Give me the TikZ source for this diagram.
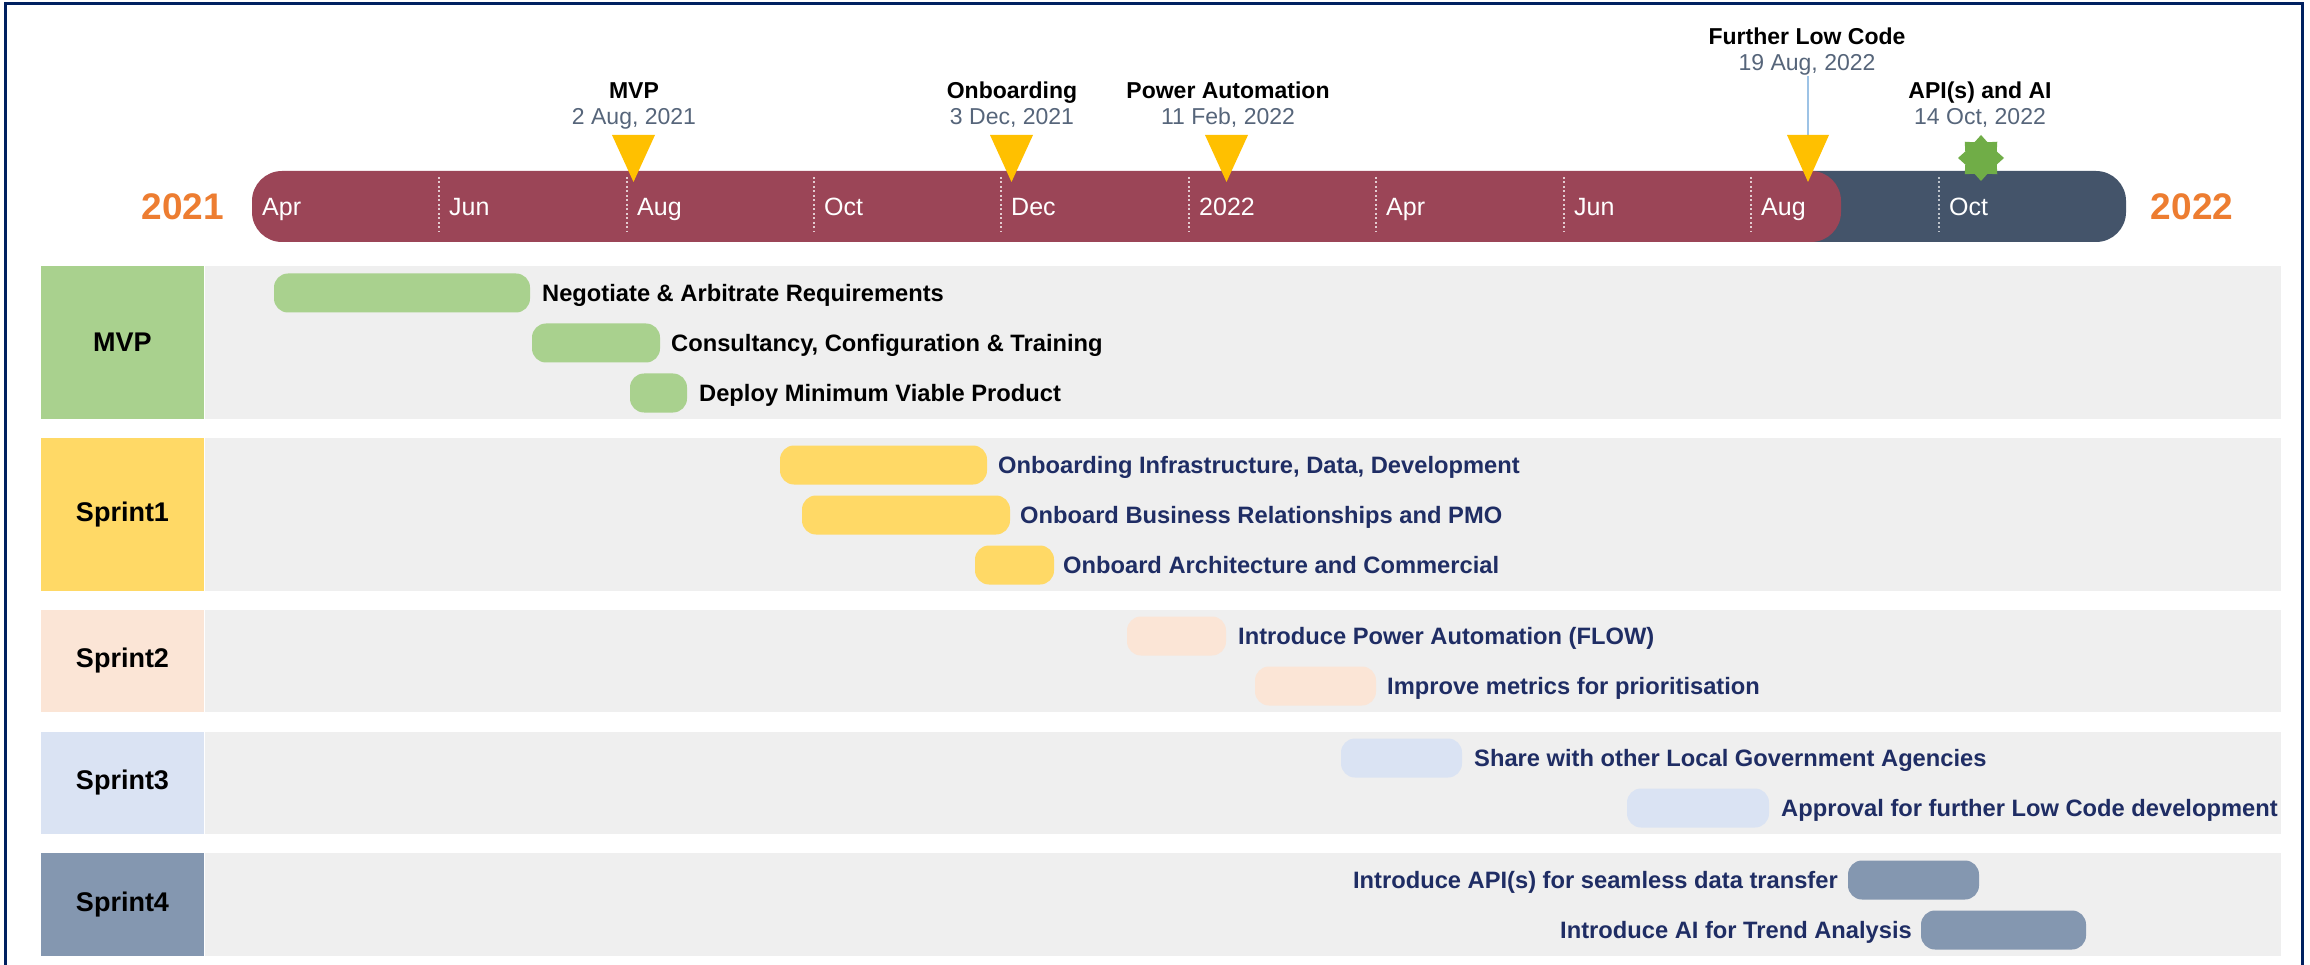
\documentclass[tikz,border=0pt]{standalone}
\usepackage{fontspec}
\setmainfont{Liberation Sans}
\usetikzlibrary{shapes.geometric}
\definecolor{barred}{HTML}{9B4557}
\definecolor{bardark}{HTML}{44546A}
\definecolor{yearorange}{HTML}{ED7D31}
\definecolor{msyellow}{HTML}{FFC000}
\definecolor{stargreen}{HTML}{70AD47}
\definecolor{dategray}{HTML}{56657A}
\definecolor{framenavy}{HTML}{002060}
\definecolor{tasknavy}{HTML}{1F2D64}
\definecolor{bandgray}{HTML}{EFEFEF}
\definecolor{cmvp}{HTML}{A9D18E}
\definecolor{csa}{HTML}{FFD966}
\definecolor{csb}{HTML}{FBE5D6}
\definecolor{csc}{HTML}{DAE3F3}
\definecolor{csd}{HTML}{8497B0}
\definecolor{linkblue}{HTML}{9DC3E6}
\tikzset{
  yeartext/.style={font=\fontsize{37}{44}\selectfont\bfseries, text=yearorange, inner sep=0pt, anchor=base},
  monthtext/.style={font=\fontsize{25}{30}\selectfont, text=white, inner sep=0pt, anchor=base west},
  mstitle/.style={font=\fontsize{23}{28}\selectfont\bfseries, text=black, inner sep=0pt, anchor=base},
  msdate/.style={font=\fontsize{23}{28}\selectfont, text=dategray, inner sep=0pt, anchor=base},
  monthtick/.style={line width=1.6pt, dash pattern=on 2pt off 2.5pt},
  msmark/.style={fill=msyellow},
  lanebox/.style={minimum width=163pt, inner sep=0pt, font=\fontsize{27}{32}\selectfont\bfseries, text=black},
  taskbar/.style={rounded corners=14pt, minimum height=39pt, inner sep=0pt},
  tasktext/.style={font=\fontsize{23.7}{28}\selectfont\bfseries, inner sep=0pt},
}
\begin{document}
\begin{tikzpicture}[x=1pt,y=-1pt]
\useasboundingbox (0,0) rectangle (2310,965);
\fill[white] (0,0) rectangle (2310,965);
% frame
\draw[framenavy, line width=3pt] (5,980) -- (5,4) -- (2302,4) -- (2302,980);

% timeline bars
\fill[bardark, rounded corners=30pt] (1780,171) rectangle (2126,242);
\fill[barred, rounded corners=30pt] (252,171) rectangle (1841,242);
% ticks
\foreach \tx in {439,627,814,1001,1189,1376,1564,1751}
  \draw[monthtick, white!72!barred] (\tx,177) -- (\tx,232);
\draw[monthtick, white!65!bardark] (1939,177) -- (1939,232);
% month labels
\foreach \mx/\mn in {262/Apr,449/Jun,637/Aug,824/Oct,1011/Dec,1199/2022,1386/Apr,1574/Jun,1761/Aug,1949/Oct}
  \node[monthtext] at (\mx,216) {\mn};
% years
\node[yeartext] (y1) at (183,220) {2021};
\node[yeartext] (y2) at (2192,220) {2022};

% milestones
\node[mstitle] (mvpt) at (634,99) {MVP};
\node[msdate] (mvpd) at (634,125) {2 Aug, 2021};
\fill[msmark] (612,135) -- (655,135) -- (633.5,182) -- cycle;

\node[mstitle] (onbt) at (1012,99) {Onboarding};
\node[msdate] (onbd) at (1012,125) {3 Dec, 2021};
\fill[msmark] (990,135) -- (1033,135) -- (1011.5,182) -- cycle;

\node[mstitle] (pat) at (1228,99) {Power Automation};
\node[msdate] (pad) at (1228,125) {11 Feb, 2022};
\fill[msmark] (1205,135) -- (1248,135) -- (1226.5,182) -- cycle;

\node[mstitle] (flct) at (1807,45) {Further Low Code};
\node[msdate] (flcd) at (1807,71) {19 Aug, 2022};
\coordinate (flctop) at (1808,135);
\draw[linkblue, line width=2pt] (flcd.south -| flctop) -- (flctop);
\fill[msmark] (1787,135) -- (1829,135) -- (1808,182) -- cycle;

\node[mstitle] (apit) at (1980,99) {API(s) and AI};
\node[msdate] (apid) at (1980,125) {14 Oct, 2022};
\node[star, star points=8, star point ratio=1.35, minimum size=46pt, inner sep=0pt, fill=stargreen] (apistar) at (1981,158) {};

% lanes
\fill[bandgray] (205,266) rectangle (2281,419);
\fill[bandgray] (205,438) rectangle (2281,591);
\fill[bandgray] (205,610) rectangle (2281,712);
\fill[bandgray] (205,732) rectangle (2281,834);
\fill[bandgray] (205,853) rectangle (2281,956);

\node[lanebox, fill=cmvp, minimum height=153pt] (lmvp) at (122.5,342.5) {MVP};
\node[lanebox, fill=csa, minimum height=153pt] (ls1) at (122.5,514.5) {Sprint1};
\node[lanebox, fill=csb, minimum height=102pt] (ls2) at (122.5,661) {Sprint2};
\node[lanebox, fill=csc, minimum height=102pt] (ls3) at (122.5,783) {Sprint3};
\node[lanebox, fill=csd, minimum height=103pt] (ls4) at (122.5,904.5) {Sprint4};

% MVP tasks
\node[taskbar, fill=cmvp, minimum width=256pt] (m1) at (402,293) {};
\node[tasktext, text=black, anchor=base west] (m1t) at (542,301.5) {Negotiate \& Arbitrate Requirements};
\node[taskbar, fill=cmvp, minimum width=128pt] (m2) at (596,343) {};
\node[tasktext, text=black, anchor=base west] (m2t) at (671,351.5) {Consultancy, Configuration \& Training};
\node[taskbar, fill=cmvp, minimum width=57pt] (m3) at (658.5,393) {};
\node[tasktext, text=black, anchor=base west] (m3t) at (699,401.5) {Deploy Minimum Viable Product};

% Sprint1 tasks
\node[taskbar, fill=csa, minimum width=207pt] (a1) at (883.5,465) {};
\node[tasktext, text=tasknavy, anchor=base west] (a1t) at (998,473.5) {Onboarding Infrastructure, Data, Development};
\node[taskbar, fill=csa, minimum width=208pt] (a2) at (906,515) {};
\node[tasktext, text=tasknavy, anchor=base west] (a2t) at (1020,523.5) {Onboard Business Relationships and PMO};
\node[taskbar, fill=csa, minimum width=79pt] (a3) at (1014.5,565) {};
\node[tasktext, text=tasknavy, anchor=base west] (a3t) at (1063,573.5) {Onboard Architecture and Commercial};

% Sprint2 tasks
\node[taskbar, fill=csb, minimum width=99pt] (b1) at (1176.5,636) {};
\node[tasktext, text=tasknavy, anchor=base west] (b1t) at (1238,644.5) {Introduce Power Automation (FLOW)};
\node[taskbar, fill=csb, minimum width=121pt] (b2) at (1315.5,686) {};
\node[tasktext, text=tasknavy, anchor=base west] (b2t) at (1387,694.5) {Improve metrics for prioritisation};

% Sprint3 tasks
\node[taskbar, fill=csc, minimum width=121pt] (c1) at (1401.5,758) {};
\node[tasktext, text=tasknavy, anchor=base west] (c1t) at (1474,766.5) {Share with other Local Government Agencies};
\node[taskbar, fill=csc, minimum width=142pt] (c2) at (1698,808) {};
\node[tasktext, text=tasknavy, anchor=base west] (c2t) at (1781,816.5) {Approval for further Low Code development};

% Sprint4 tasks
\node[taskbar, fill=csd, minimum width=131pt] (d1) at (1913.5,880) {};
\node[tasktext, text=tasknavy, anchor=base east] (d1t) at (1838,888.5) {Introduce API(s) for seamless data transfer};
\node[taskbar, fill=csd, minimum width=165pt] (d2) at (2003.5,930) {};
\node[tasktext, text=tasknavy, anchor=base east] (d2t) at (1912,938.5) {Introduce AI for Trend Analysis};
\end{tikzpicture}
\end{document}
